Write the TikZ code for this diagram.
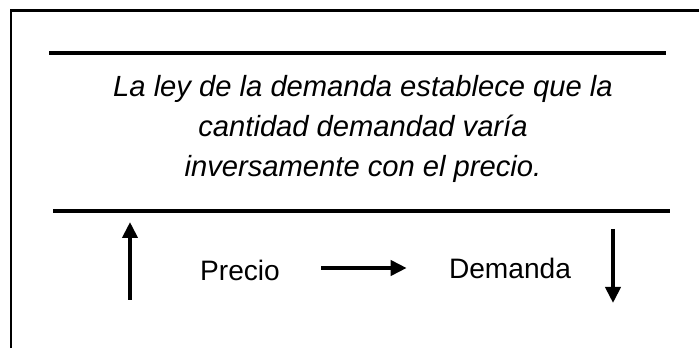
\documentclass[tikz,border=0pt]{standalone}
\usepackage{fontspec}
\setmainfont{Liberation Sans}
\usepackage{tikz}
\usetikzlibrary{arrows.meta}

\tikzset{
    frame/.style={line width=1.7pt},
    rule/.style={line width=2.3pt},
    arr/.style={line width=2.2pt, -{Triangle[width=0.3cm, length=0.32cm]}},
    label/.style={font=\fontsize{16}{23}\selectfont, inner sep=0pt}
}

\begin{document}
\begin{tikzpicture}
    \useasboundingbox (0,0) rectangle (13.98,6.96);

    \draw[frame] (0.22,0) -- (0.22,6.74) -- (13.98,6.74);
    \draw[rule] (0.98,5.9) -- (13.32,5.9);
    \draw[rule] (1.06,2.74) -- (13.4,2.74);

    \node[label, align=center, font=\fontsize{16.6}{23}\selectfont\itshape] (ley) at (7.26,4.38)
        {La ley de la demanda establece que la\\cantidad demandad varía\\inversamente con el precio.};

    \node[label, anchor=base] (precio) at (4.8,1.34) {Precio};
    \node[label, anchor=base] (demanda) at (10.2,1.4) {Demanda};

    \coordinate (subeA) at (2.6,0.96);
    \coordinate (subeB) at (2.6,2.52);
    \coordinate (bajaA) at (12.26,2.38);
    \coordinate (bajaB) at (12.26,0.9);

    \draw[arr] (subeA) -- (subeB);
    \draw[arr, shorten <=0.82cm, shorten >=0.84cm] ([yshift=0.26cm]precio.base east) -- ([yshift=0.2cm]demanda.base west);
    \draw[arr] (bajaA) -- (bajaB);

\end{tikzpicture}
\end{document}
